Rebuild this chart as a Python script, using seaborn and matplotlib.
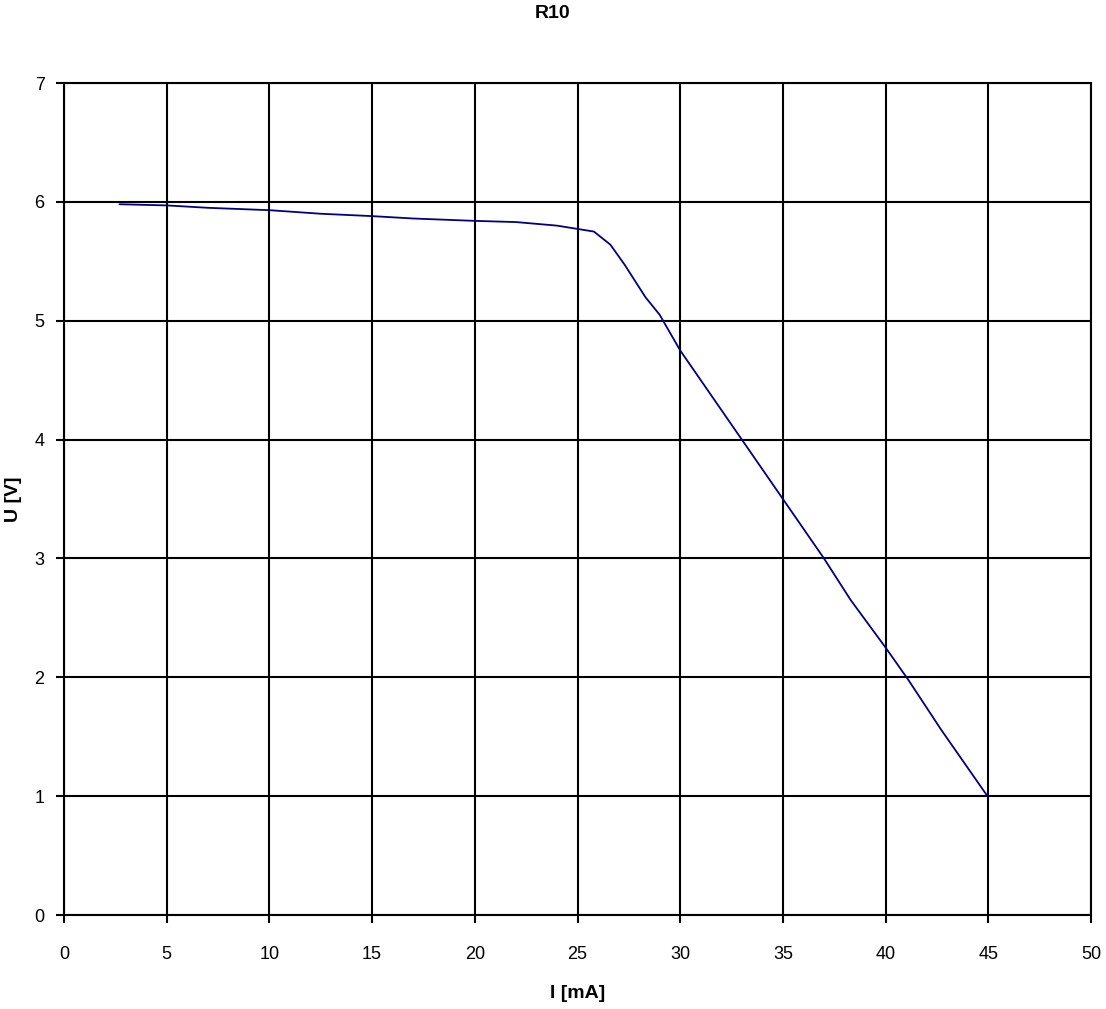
import seaborn as sns
import matplotlib.pyplot as plt
import pandas as pd

# measured I-U characteristic (R10)
current_ma = [2.7, 5.0, 7.0, 10.0, 12.5, 15.0, 17.0, 20.0, 22.0, 24.0, 25.8,
              26.6, 27.3, 28.3, 29.0, 30.0, 31.0, 33.0, 35.0, 37.0, 38.3,
              40.0, 41.1, 42.7, 45.0]
voltage_v = [5.98, 5.97, 5.95, 5.93, 5.90, 5.88, 5.86, 5.84, 5.83, 5.80, 5.75,
             5.64, 5.47, 5.20, 5.05, 4.75, 4.50, 4.00, 3.50, 3.00, 2.65,
             2.25, 1.98, 1.56, 0.99]

df = pd.DataFrame({"I [mA]": current_ma, "U [V]": voltage_v})

sns.set_style("white")
plt.rcParams['font.family'] = ['Liberation Sans', 'DejaVu Sans']
plt.rcParams['text.color'] = 'black'
plt.rcParams['axes.labelcolor'] = 'black'
plt.rcParams['xtick.color'] = 'black'
plt.rcParams['ytick.color'] = 'black'

fig = plt.figure(figsize=(11.06, 10.09), dpi=100)
ax = fig.add_axes([64 / 1106, 1 - 915 / 1009, (1091 - 64) / 1106, (915 - 83) / 1009])

sns.lineplot(data=df, x="I [mA]", y="U [V]", ax=ax, color="#000080",
             linewidth=1.3, sort=False)

ax.set_xlim(0, 50)
ax.set_ylim(0, 7)
ax.set_xticks(range(0, 51, 5))
ax.set_yticks(range(0, 8))
ax.grid(True, color="black", linewidth=1.5)
ax.set_axisbelow(True)
for s in ax.spines.values():
    s.set_color("black")
    s.set_linewidth(1.5)
ax.tick_params(axis="both", direction="out", length=6, width=1.5,
               color="black", labelsize=13, bottom=True, left=True)
ax.tick_params(axis="x", pad=16)
ax.tick_params(axis="y", pad=8)

ax.set_xlabel("I [mA]", fontsize=14, fontweight="bold", labelpad=16)
ax.set_ylabel("U [V]", fontsize=14, fontweight="bold", labelpad=9)
fig.suptitle("R10", fontsize=14, fontweight="bold", y=0.995)

fig.savefig("out.png", dpi=100)
